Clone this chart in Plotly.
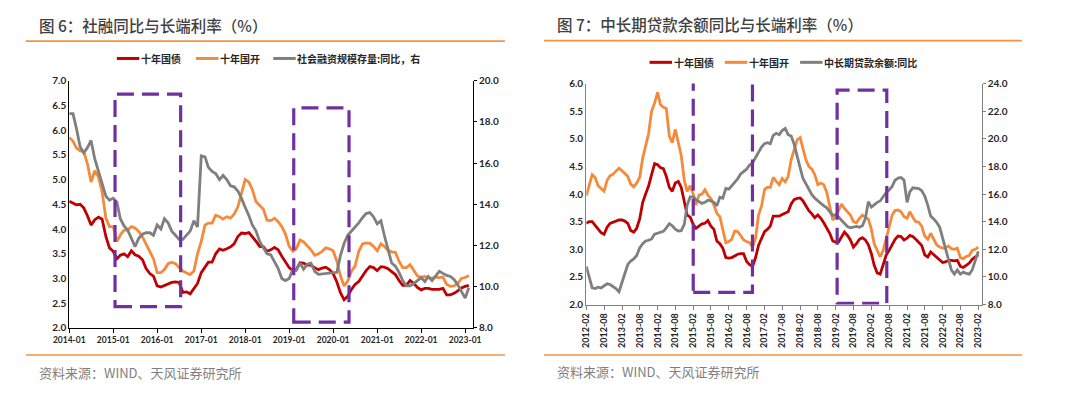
import plotly.graph_objects as go
import pandas as pd

# ---------------- Left chart data (monthly, 2014-01 .. 2023-02) ----------------
months_left = pd.date_range("2014-01-01", periods=110, freq="MS")
gov10_left = [4.56, 4.52, 4.49, 4.50, 4.43, 4.27, 4.08, 4.19, 4.24, 4.20, 3.85, 3.62,
              3.55, 3.40, 3.47, 3.50, 3.44, 3.56, 3.48, 3.45, 3.38, 3.20, 3.10, 3.05,
              2.85, 2.83, 2.86, 2.88, 2.92, 2.93, 2.92, 2.72, 2.73, 2.69, 2.80, 2.90,
              3.12, 3.23, 3.33, 3.33, 3.50, 3.60, 3.57, 3.60, 3.64, 3.70, 3.85, 3.92,
              3.91, 3.93, 3.85, 3.75, 3.65, 3.64, 3.55, 3.58, 3.63, 3.58, 3.45, 3.33,
              3.22, 3.16, 3.18, 3.32, 3.31, 3.27, 3.27, 3.22, 3.18, 3.21, 3.23, 3.18,
              3.10, 2.93, 2.72, 2.57, 2.64, 2.78, 2.88, 2.94, 3.05, 3.16, 3.24, 3.22,
              3.16, 3.24, 3.23, 3.20, 3.14, 3.08, 2.96, 2.86, 2.86, 2.96, 2.90, 2.82,
              2.77, 2.80, 2.80, 2.78, 2.78, 2.78, 2.80, 2.67, 2.67, 2.70, 2.75, 2.81,
              2.84, 2.86]
cdb10_left = [5.85, 5.78, 5.64, 5.58, 5.57, 5.32, 4.95, 5.18, 5.05, 4.75, 4.22, 4.05,
              4.05, 3.75, 3.88, 3.98, 3.98, 4.05, 4.02, 3.95, 3.84, 3.70, 3.55, 3.40,
              3.12, 3.12, 3.18, 3.30, 3.33, 3.30, 3.22, 3.15, 3.11, 3.08, 3.15, 3.50,
              3.75, 4.08, 4.12, 4.12, 4.28, 4.25, 4.20, 4.25, 4.22, 4.30, 4.45, 4.75,
              5.00, 4.95, 4.80, 4.55, 4.48, 4.40, 4.18, 4.17, 4.22, 4.15, 4.05, 3.90,
              3.65, 3.55, 3.60, 3.78, 3.74, 3.66, 3.58, 3.47, 3.50, 3.55, 3.62, 3.60,
              3.56, 3.35, 3.06, 2.85, 2.95, 3.15, 3.25, 3.55, 3.70, 3.72, 3.71, 3.65,
              3.56, 3.70, 3.65, 3.57, 3.54, 3.53, 3.35, 3.22, 3.22, 3.28, 3.15, 3.05,
              3.03, 3.04, 3.02, 3.01, 3.03, 3.02, 3.03, 2.88, 2.84, 2.85, 2.90, 3.00,
              3.02, 3.06]
tsf_yoy = [18.40, 18.40, 17.70, 16.80, 16.50, 16.75, 17.10, 16.20, 15.60, 15.00, 14.40, 14.20,
           14.30, 14.10, 13.30, 12.95, 12.75, 12.35, 11.95, 12.35, 12.55, 12.62, 12.62, 12.50,
           13.00, 12.80, 13.30, 13.10, 12.70, 12.50, 12.30, 12.30, 12.50, 12.70, 13.20, 12.90,
           16.35, 16.30, 15.80, 15.60, 15.50, 15.20, 15.40, 15.20, 14.90, 14.85, 14.65, 14.30,
           13.85, 13.45, 13.00, 12.70, 12.20, 11.90, 11.60, 11.55, 11.25, 10.90, 10.40, 10.30,
           10.40, 10.85, 10.80, 11.15, 10.85, 11.10, 11.15, 10.75, 10.60, 10.62, 10.65, 10.67,
           10.68, 10.70, 11.50, 12.10, 12.50, 12.70, 12.85, 13.10, 13.35, 13.55, 13.60, 13.40,
           13.05, 13.20, 12.50, 11.85, 11.15, 11.00, 10.70, 10.30, 10.05, 10.05, 10.15, 10.30,
           10.44, 10.25, 10.50, 10.30, 10.50, 10.75, 10.65, 10.55, 10.50, 10.35, 10.10, 9.75,
           9.45, 9.95]

# ---------------- Right chart data (monthly, 2012-02 .. 2023-02) ----------------
months_right = pd.date_range("2012-02-01", periods=133, freq="MS")
gov10_right = [3.47, 3.50, 3.50, 3.44, 3.38, 3.30, 3.27, 3.40, 3.47, 3.49, 3.51, 3.53,
               3.53, 3.51, 3.47, 3.34, 3.31, 3.38, 3.55, 3.85, 4.00, 4.15, 4.35, 4.55,
               4.53, 4.48, 4.46, 4.32, 4.12, 4.05, 4.20, 4.23, 4.12, 3.85, 3.62, 3.58,
               3.45, 3.38, 3.42, 3.46, 3.47, 3.52, 3.42, 3.36, 3.15, 3.10, 3.02, 2.85,
               2.84, 2.85, 2.88, 2.91, 2.92, 2.92, 2.78, 2.72, 2.69, 2.85, 3.07, 3.18,
               3.32, 3.36, 3.42, 3.60, 3.60, 3.60, 3.63, 3.65, 3.68, 3.82, 3.90, 3.92,
               3.93, 3.88, 3.78, 3.70, 3.64, 3.57, 3.62, 3.56, 3.48, 3.39, 3.29, 3.15,
               3.13, 3.13, 3.21, 3.31, 3.25, 3.17, 3.04, 3.10, 3.18, 3.21, 3.17, 3.08,
               2.92, 2.71, 2.57, 2.55, 2.72, 2.89, 2.98, 3.07, 3.18, 3.24, 3.23, 3.17,
               3.20, 3.25, 3.23, 3.18, 3.13, 3.07, 2.90, 2.86, 2.95, 2.90, 2.85, 2.80,
               2.76, 2.77, 2.80, 2.80, 2.79, 2.80, 2.69, 2.67, 2.71, 2.75, 2.82, 2.86,
               2.90]
cdb10_right = [3.97, 4.15, 4.35, 4.30, 4.15, 4.10, 4.05, 4.25, 4.33, 4.36, 4.42, 4.47,
               4.42, 4.37, 4.32, 4.18, 4.13, 4.20, 4.30, 4.65, 4.85, 5.10, 5.50, 5.65,
               5.84, 5.62, 5.57, 5.55, 5.05, 4.93, 5.17, 4.95, 4.70, 4.25, 4.05, 4.15,
               4.00, 3.80, 3.98, 4.00, 4.08, 3.98, 3.92, 3.80, 3.65, 3.59, 3.36, 3.12,
               3.14, 3.18, 3.33, 3.32, 3.25, 3.17, 3.14, 3.12, 3.04, 3.20, 3.62, 3.78,
               4.08, 4.12, 4.12, 4.30, 4.23, 4.17, 4.28, 4.22, 4.32, 4.62, 4.80, 4.98,
               5.02, 4.85, 4.62, 4.50, 4.45, 4.35, 4.17, 4.20, 4.17, 4.03, 3.77, 3.53,
               3.59, 3.71, 3.82, 3.74, 3.68, 3.62, 3.50, 3.48, 3.56, 3.62, 3.58, 3.55,
               3.36, 3.10, 2.98, 2.86, 2.98, 3.18, 3.42, 3.62, 3.70, 3.71, 3.68, 3.59,
               3.56, 3.68, 3.58, 3.50, 3.49, 3.42, 3.24, 3.18, 3.29, 3.18, 3.08, 3.04,
               3.02, 3.02, 3.06, 3.01, 3.00, 3.02, 2.85, 2.83, 2.87, 2.89, 2.98, 3.00,
               3.04]
loan_yoy = [10.75, 10.00, 9.20, 9.15, 9.25, 9.20, 9.35, 9.50, 9.45, 9.30, 9.15, 8.92,
            9.65, 10.35, 10.90, 11.15, 11.30, 11.55, 12.10, 12.40, 12.60, 12.65, 12.75, 13.10,
            13.15, 13.20, 13.30, 13.55, 13.85, 13.70, 13.45, 13.32, 13.35, 13.80, 15.20, 15.80,
            15.80, 15.60, 15.45, 15.32, 15.40, 15.55, 15.50, 15.40, 15.15, 15.77, 15.70, 16.40,
            16.35, 16.60, 16.80, 17.10, 17.45, 17.65, 17.80, 18.10, 18.25, 18.65, 19.05, 19.40,
            19.65, 19.72, 19.65, 20.25, 20.40, 20.30, 20.60, 20.75, 20.30, 20.20, 19.62, 18.85,
            17.90, 17.15, 16.75, 16.30, 15.95, 15.70, 15.50, 15.30, 15.15, 15.00, 14.70, 14.45,
            14.50, 14.35, 14.10, 13.90, 13.65, 13.55, 13.60, 13.65, 13.60, 13.70, 14.20, 15.45,
            15.05, 15.25, 15.40, 15.50, 15.85, 16.10, 16.30, 16.55, 17.00, 17.15, 17.20, 17.00,
            15.40, 16.15, 16.45, 16.45, 16.40, 16.25, 15.85, 15.20, 14.40, 14.20, 13.95, 13.60,
            12.80, 12.00, 11.30, 10.50, 10.20, 10.50, 10.20, 10.35, 10.25, 10.20, 10.50, 11.10,
            11.85]

names_left = ["十年国债", "十年国开", "社会融资规模存量:同比，右"]
names_right = ["十年国债", "十年国开", "中长期贷款余额:同比"]
title_left = "图 6：社融同比与长端利率（%）"
title_right = "图 7：中长期贷款余额同比与长端利率（%）"
source_text = "资料来源：WIND、天风证券研究所"

RED = "#C00000"
ORANGE = "#F58A3A"
GRAY = "#7F7F7F"
PURPLE = "#7030A0"
RULE = "#F4943F"
colors = [RED, ORANGE, GRAY]

# Page body has an 8px margin: size the figure so the page is exactly 1080x398
OFF = 8
W, H = 1080 - 2 * OFF, 398 - 2 * OFF


def px(x):
    return (x - OFF) / W


def py(y):
    return 1 - (y - OFF) / H


fig = go.Figure()
LW = 2.8
fig.add_trace(go.Scatter(x=months_left, y=gov10_left, name=names_left[0], mode="lines",
                         line=dict(color=RED, width=LW), xaxis="x", yaxis="y"))
fig.add_trace(go.Scatter(x=months_left, y=cdb10_left, name=names_left[1], mode="lines",
                         line=dict(color=ORANGE, width=LW), xaxis="x", yaxis="y"))
fig.add_trace(go.Scatter(x=months_left, y=tsf_yoy, name=names_left[2], mode="lines",
                         line=dict(color=GRAY, width=LW), xaxis="x", yaxis="y2"))

fig.add_trace(go.Scatter(x=months_right, y=gov10_right, name=names_right[0], mode="lines",
                         line=dict(color=RED, width=LW), xaxis="x2", yaxis="y3"))
fig.add_trace(go.Scatter(x=months_right, y=cdb10_right, name=names_right[1], mode="lines",
                         line=dict(color=ORANGE, width=LW), xaxis="x2", yaxis="y3"))
fig.add_trace(go.Scatter(x=months_right, y=loan_yoy, name=names_right[2], mode="lines",
                         line=dict(color=GRAY, width=LW), xaxis="x2", yaxis="y4"))

TICKFONT = dict(family="Lato, Liberation Sans, sans-serif", size=10, color="#262626", weight="bold")
TICKFONT_X = dict(family="Lato, Liberation Sans, sans-serif", size=8.5, color="#262626", weight="bold")
LEGFONT = dict(family="Noto Sans CJK SC", size=10, color="#262626", weight="bold")

left_dom_x = [px(54.3), px(467.3)]
left_dom_y = [py(332), py(76)]
right_dom_x = [px(583.3), px(987.7)]
right_dom_y = [py(307.7), py(79)]

fig.update_layout(
    width=W, height=H, margin=dict(l=0, r=0, t=0, b=0),
    paper_bgcolor="white", plot_bgcolor="white",
    showlegend=False,
    xaxis=dict(domain=left_dom_x, anchor="y", type="date",
               range=["2014-01-01", "2023-03-07"], tick0="2014-01-01", dtick="M12",
               tickformat="%Y-%m", showgrid=False, showline=True, linecolor="black", linewidth=1,
               ticks="outside", ticklen=4, tickcolor="black", tickfont=TICKFONT_X, zeroline=False),
    yaxis=dict(domain=left_dom_y, anchor="x", range=[2.0, 7.0], dtick=0.5, tickformat=".1f",
               showgrid=False, showline=True, linecolor="black", linewidth=1, ticks="",
               tickfont=TICKFONT, zeroline=False),
    yaxis2=dict(overlaying="y", side="right", anchor="x", range=[8.0, 20.0], dtick=2,
                tickformat=".1f", showgrid=False, showline=True, linecolor="black", linewidth=1,
                ticks="outside", ticklen=3, tickcolor="black", tickfont=TICKFONT, zeroline=False),
    xaxis2=dict(domain=right_dom_x, anchor="y3", type="date",
                range=["2012-02-01", "2023-03-07"], tick0="2012-02-01", dtick="M6",
                tickformat="%Y-%m", tickangle=-90, showgrid=False, showline=True,
                linecolor="#808080", linewidth=1.3, ticks="outside", ticklen=4, tickcolor="#808080",
                tickfont=dict(TICKFONT_X, size=9), zeroline=False),
    yaxis3=dict(domain=right_dom_y, anchor="x2", range=[2.0, 6.0], dtick=0.5, tickformat=".1f",
                showgrid=False, showline=True, linecolor="#808080", linewidth=1.3, ticks="",
                tickfont=TICKFONT, zeroline=False),
    yaxis4=dict(overlaying="y3", side="right", anchor="x2", range=[8.0, 24.0], dtick=2,
                tickformat=".1f", showgrid=False, showline=True, linecolor="#808080", linewidth=1.3,
                ticks="outside", ticklen=3, tickcolor="#808080", tickfont=TICKFONT, zeroline=False),
)

# Legend rows (line sample + label), placed like the original
legend_rows = [
    (names_left, [103, 184, 263], 53),
    (names_right, [648, 725, 802], 57),
]
for names, starts, ly in legend_rows:
    for name, color, x0 in zip(names, colors, starts):
        fig.add_shape(type="line", xref="paper", yref="paper", x0=px(x0), x1=px(x0 + 23),
                      y0=py(ly), y1=py(ly), line=dict(color=color, width=3))
        fig.add_annotation(xref="paper", yref="paper", x=px(x0 + 23.5), y=py(ly), text=name,
                           xanchor="left", yanchor="middle", showarrow=False, font=LEGFONT,
                           borderpad=0)

# Titles, rules and source lines
TITLEFONT = dict(family="Noto Sans CJK SC", size=15.5, color="#404040", weight=500)
SRCFONT = dict(family="Noto Sans CJK SC", size=13, color="#7F7F7F")
annos = [
    dict(text=title_left, x=px(22), y=py(18.5), font=TITLEFONT),
    dict(text=title_right, x=px(552), y=py(17.5), font=TITLEFONT),
    dict(text=source_text, x=px(22), y=py(378), font=SRCFONT),
    dict(text=source_text, x=px(552), y=py(377), font=SRCFONT),
]
for a in annos:
    fig.add_annotation(xref="paper", yref="paper", xanchor="left", yanchor="middle",
                       showarrow=False, borderpad=0, **a)

rules = [(10, 500, 35), (540, 1029, 34.5), (10, 500, 360), (540, 1029, 360)]
for x0, x1, y in rules:
    fig.add_shape(type="line", xref="paper", yref="paper", x0=px(x0), x1=px(x1),
                  y0=py(y), y1=py(y), line=dict(color=RULE, width=1.6))

# Purple dashed highlight boxes
boxes = [
    ("x", "y", "2015-01-16", "2016-07-14", 2.43, 6.73),
    ("x", "y", "2019-02-08", "2020-05-12", 2.12, 6.45),
    ("x2", "y3", "2015-02-01", "2016-09-30", 2.22, 6.07),
    ("x2", "y3", "2019-02-15", "2020-07-08", 2.02, 5.88),
]
for xr, yr, x0, x1, y0, y1 in boxes:
    fig.add_shape(type="rect", xref=xr, yref=yr, x0=x0, x1=x1, y0=y0, y1=y1,
                  line=dict(color=PURPLE, width=3.2, dash="17px,8px"), layer="above")

fig.write_html("out.html")
